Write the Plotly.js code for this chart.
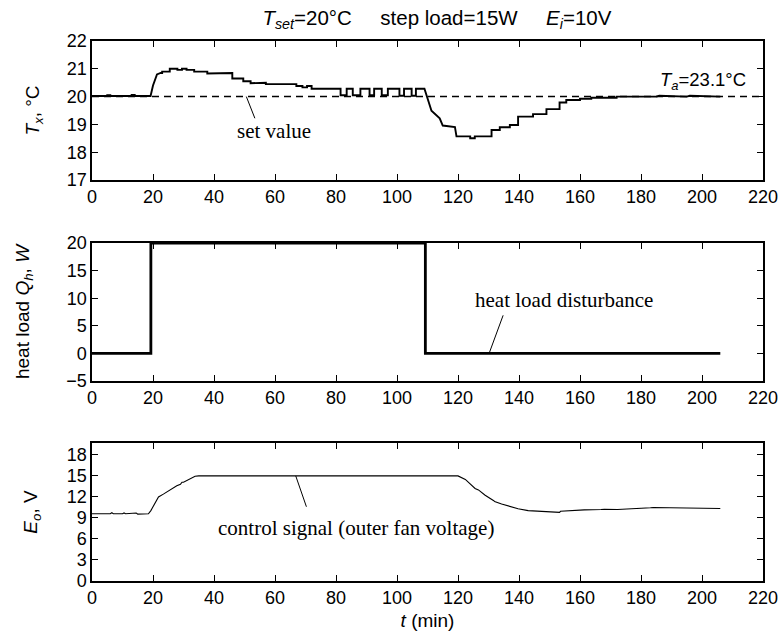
<!DOCTYPE html>
<html>
<head>
<meta charset="utf-8">
<script src="https://cdn.plot.ly/plotly-3.0.1.min.js"></script>
<style>html,body{margin:0;padding:0;background:#fff;}#chart{width:783px;height:641px;}</style>
</head>
<body>
<div id="chart"></div>
<script>
// ---- data ----
const tempTime = [0,5,5,6,6,13,13,14,14,19.2,20,21.3,22.5,23,23,25.5,25.5,28,28,29.5,29.5,31,31,33.5,33.5,37.8,37.8,41,41,46,46,49.6,49.6,52,52,54,54,57,57,67,67,69,69,70.5,70.5,72,72,81.5,81.5,83.5,83.5,85.5,85.5,88,88,91,91,92.5,92.5,95,95,97,97,100.8,100.8,102.3,102.3,104.8,104.8,106.2,106.2,109,111.3,114,115,119,119.5,124,124,125.5,125.5,131,131,133.7,133.7,137,137,139.7,139.7,144.6,144.6,149,149,153.3,153.3,155.5,155.5,160,160,163.7,163.7,172,172,185,186,195,196,206];
const tempValue = [20.02,20.02,20.05,20.05,20.02,20.02,20.06,20.06,20.02,20.02,20.4,20.8,20.85,20.85,20.9,20.9,21.0,21.0,20.96,20.96,21.0,21.0,20.96,20.96,20.9,20.9,20.83,20.83,20.85,20.85,20.65,20.65,20.55,20.55,20.48,20.48,20.5,20.5,20.45,20.45,20.38,20.38,20.33,20.33,20.38,20.38,20.28,20.28,20.05,20.05,20.28,20.28,20.05,20.05,20.28,20.28,20.05,20.05,20.28,20.28,20.05,20.05,20.28,20.28,20.03,20.03,20.28,20.28,20.03,20.03,20.28,20.28,19.49,19.22,18.96,18.9,18.57,18.57,18.5,18.5,18.57,18.57,18.8,18.8,18.9,18.9,18.98,18.98,19.28,19.28,19.37,19.37,19.55,19.55,19.79,19.79,19.88,19.88,19.92,19.92,19.96,19.96,20.0,20.0,20.03,20.0,20.03,20.0];
const setTime = [0,220];
const setValue = [20,20];

const loadTime = [0,19.3,19.3,109.3,109.3,206];
const loadValue = [0,0,20,20,0,0];

const voltTime = [0,6,6.5,7,10,10.5,11,14,14.5,15,18.5,19.3,20.2,21.8,23.4,25.6,27.8,29,29.5,30,32.2,33.8,35,120,122.4,125.1,125.6,126.7,128.9,131.6,132,134.3,137,139.7,143,146.2,149.5,153.3,153.6,157.1,161.4,166.9,168,172.3,178.8,183.1,184,194,206];
const voltValue = [9.6,9.6,9.75,9.6,9.6,9.72,9.6,9.6,9.7,9.55,9.6,10.05,10.8,12.0,12.4,13.0,13.6,13.8,14.1,14.1,14.6,14.95,15.0,15.0,14.5,13.4,13.2,13.0,12.25,11.5,11.35,11.0,10.65,10.3,10.05,10.0,9.9,9.8,9.95,10.05,10.15,10.2,10.25,10.2,10.3,10.45,10.5,10.4,10.35];

const xTicks = [0,20,40,60,80,100,120,140,160,180,200,220];
const tTicks = [17,18,19,20,21,22];
const qTicks = [-5,0,5,10,15,20];
const eTicks = [0,3,6,9,12,15,18];

// ---- layout ----
const sans = 'Liberation Sans, Arial, sans-serif';
const tickFont = {family: sans, size: 18, color: '#000'};
const titleFont = {family: sans, size: 19, color: '#000'};
function xax(anchor) {
  return {domain: [0,1], anchor: anchor, range: [0,220], tickvals: xTicks,
    ticks: 'inside', ticklen: 6, tickwidth: 1, tickcolor: '#000',
    showline: true, linecolor: '#000', linewidth: 1.6, mirror: 'ticks',
    showgrid: false, zeroline: false, tickfont: tickFont, fixedrange: true};
}
function yax(anchor, domain, range, ticks, title, standoff) {
  return {domain: domain, anchor: anchor, range: range, tickvals: ticks,
    ticks: 'inside', ticklen: 6, tickwidth: 1, tickcolor: '#000',
    showline: true, linecolor: '#000', linewidth: 1.6, mirror: 'ticks',
    showgrid: false, zeroline: false, tickfont: tickFont,
    title: {text: title, font: titleFont, standoff: standoff}};
}

const traces = [
  {x: setTime, y: setValue, xaxis: 'x', yaxis: 'y', mode: 'lines',
   line: {color: '#000', width: 1.5, dash: '7px,5px'}, hoverinfo: 'skip'},
  {x: tempTime, y: tempValue, xaxis: 'x', yaxis: 'y', mode: 'lines',
   line: {color: '#000', width: 1.9}},
  {x: loadTime, y: loadValue, xaxis: 'x2', yaxis: 'y2', mode: 'lines',
   line: {color: '#000', width: 2.8}},
  {x: voltTime, y: voltValue, xaxis: 'x3', yaxis: 'y3', mode: 'lines',
   line: {color: '#000', width: 1.1}}
];

const annFont = {family: 'Liberation Serif, Times New Roman, serif', size: 21, color: '#000'};
const sp = '&nbsp;&nbsp;&nbsp;&nbsp;&nbsp;';
const layout = {
  width: 783, height: 641, showlegend: false,
  paper_bgcolor: '#fff', plot_bgcolor: '#fff',
  margin: {l: 92, r: 20, t: 41, b: 60},
  title: {text: '<i>T</i><sub><i>set</i></sub>=20°C' + sp + 'step load=15W' + sp + '<i>E</i><sub><i>i</i></sub>=10V',
    font: {family: sans, size: 20.5, color: '#000'},
    x: 0.558, xanchor: 'center', yref: 'container', y: 0.972, yanchor: 'middle'},
  xaxis: xax('y'),
  yaxis: yax('x', [0.7426, 1], [17, 22], tTicks, '<i>T</i><sub><i>x</i></sub>, °C', 22),
  xaxis2: xax('y2'),
  yaxis2: yax('x2', [0.3704, 0.6259], [-5, 20], qTicks, 'heat load <i>Q</i><sub><i>h</i></sub>, <i>W</i>', 31),
  xaxis3: Object.assign(xax('y3'), {title: {text: '<i>t</i> (min)', font: titleFont, standoff: 6}}),
  yaxis3: yax('x3', [0, 0.2556], [0, 19.7], eTicks, '<i>E</i><sub><i>o</i></sub>, V', 24),
  annotations: [
    {xref: 'x', yref: 'y', x: 59.8, y: 18.78, text: 'set value', showarrow: false, font: annFont},
    {xref: 'x', yref: 'y', x: 215, y: 20.55, xanchor: 'right', text: '<i>T</i><sub><i>a</i></sub>=23.1°C', showarrow: false,
     font: {family: sans, size: 18.5, color: '#000'}},
    {xref: 'x2', yref: 'y2', x: 154.8, y: 9.6, text: 'heat load disturbance', showarrow: false, font: annFont},
    {xref: 'x3', yref: 'y3', x: 86.5, y: 7.6, text: 'control signal (outer fan voltage)', showarrow: false, font: annFont}
  ],
  shapes: [
    {type: 'line', xref: 'x', yref: 'y', x0: 50.6, y0: 20, x1: 53.4, y1: 19.22, line: {color: '#000', width: 1}},
    {type: 'line', xref: 'x2', yref: 'y2', x0: 134.8, y0: 6.9, x1: 130.2, y1: 0, line: {color: '#000', width: 1}},
    {type: 'line', xref: 'x3', yref: 'y3', x0: 66.8, y0: 15, x1: 70.3, y1: 10.6, line: {color: '#000', width: 1}}
  ]
};

Plotly.newPlot('chart', traces, layout, {staticPlot: true, displayModeBar: false});
</script>
</body>
</html>
